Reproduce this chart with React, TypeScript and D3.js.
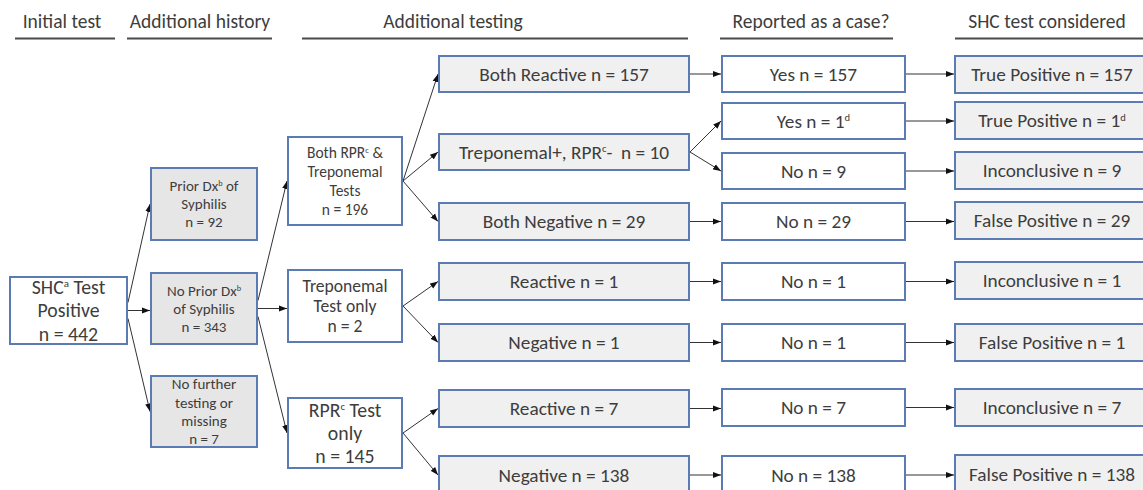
import React, { useEffect } from "react";
import * as d3 from "d3";

// ---------- data ----------
const stageTitles = [
  "Initial test",
  "Additional history",
  "Additional testing",
  "Reported as a case?",
  "SHC test considered",
];

const nodeIds = [
  "shc",
  "prior", "noprior", "nofurther",
  "both", "trepOnly", "rprOnly",
  "bothReact", "trepPlus", "bothNeg", "trepReact", "trepNeg", "rprReact", "rprNeg",
  "yes157", "yes1", "no9", "no29", "no1a", "no1b", "no7", "no138",
  "tp157", "tp1", "inc9", "fp29", "inc1", "fp1", "inc7", "fp138",
];

const nodeStage = [
  0,
  1, 1, 1,
  2, 2, 2,
  3, 3, 3, 3, 3, 3, 3,
  4, 4, 4, 4, 4, 4, 4, 4,
  5, 5, 5, 5, 5, 5, 5, 5,
];

// {x} marks a superscript footnote letter
const nodeLabels: string[][] = [
  ["SHC{a} Test", "Positive", "n = 442"],
  ["Prior Dx{b} of", "Syphilis", "n = 92"],
  ["No Prior Dx{b}", "of Syphilis", "n = 343"],
  ["No further", "testing or", "missing", "n = 7"],
  ["Both RPR{c} &", "Treponemal", "Tests", "n = 196"],
  ["Treponemal", "Test only", "n = 2"],
  ["RPR{c} Test", "only", "n = 145"],
  ["Both Reactive n = 157"],
  ["Treponemal+, RPR{c}-  n = 10"],
  ["Both Negative n = 29"],
  ["Reactive n = 1"],
  ["Negative n = 1"],
  ["Reactive n = 7"],
  ["Negative n = 138"],
  ["Yes n = 157"],
  ["Yes n = 1{d}"],
  ["No n = 9"],
  ["No n = 29"],
  ["No n = 1"],
  ["No n = 1"],
  ["No n = 7"],
  ["No n = 138"],
  ["True Positive n = 157"],
  ["True Positive n = 1{d}"],
  ["Inconclusive n = 9"],
  ["False Positive n = 29"],
  ["Inconclusive n = 1"],
  ["False Positive n = 1"],
  ["Inconclusive n = 7"],
  ["False Positive n = 138"],
];

const links: [string, string][] = [
  ["shc", "prior"], ["shc", "noprior"], ["shc", "nofurther"],
  ["noprior", "both"], ["noprior", "trepOnly"], ["noprior", "rprOnly"],
  ["both", "bothReact"], ["both", "trepPlus"], ["both", "bothNeg"],
  ["trepOnly", "trepReact"], ["trepOnly", "trepNeg"],
  ["rprOnly", "rprReact"], ["rprOnly", "rprNeg"],
  ["bothReact", "yes157"], ["trepPlus", "yes1"], ["trepPlus", "no9"],
  ["bothNeg", "no29"], ["trepReact", "no1a"], ["trepNeg", "no1b"],
  ["rprReact", "no7"], ["rprNeg", "no138"],
  ["yes157", "tp157"], ["yes1", "tp1"], ["no9", "inc9"], ["no29", "fp29"],
  ["no1a", "inc1"], ["no1b", "fp1"], ["no7", "inc7"], ["no138", "fp138"],
];

// ---------- layout ----------
const W = 1143;
const H = 490;
const stageX0 = [10, 151, 288, 439, 722, 955];
const stageX1 = [127, 257, 402, 689, 905, 1149];
const headerTextX = [62, 200, 453, 811, 1047];
const headerLine: [number, number][] = [[15, 115], [127, 272], [302, 688], [720, 893], [955, 1143]];

const nodeY: Record<string, [number, number]> = {
  shc: [277, 344],
  prior: [168, 240],
  noprior: [273, 344],
  nofurther: [376, 447],
  both: [137, 225],
  trepOnly: [270, 342],
  rprOnly: [398, 468],
  bothReact: [56, 92], trepPlus: [134, 170], bothNeg: [203, 240], trepReact: [263, 300],
  trepNeg: [324, 361], rprReact: [390, 427], rprNeg: [456, 494],
  yes157: [56, 92], yes1: [103, 139], no9: [153, 189], no29: [203, 240],
  no1a: [263, 300], no1b: [324, 361], no7: [389, 426], no138: [456, 494],
  tp157: [56, 93], tp1: [102, 139], inc9: [152, 189], fp29: [202, 239],
  inc1: [262, 299], fp1: [324, 361], inc7: [389, 426], fp138: [455, 494],
};

const nodeFont: Record<string, [number, number]> = {
  shc: [19.8, 23.5],
  prior: [15, 18], noprior: [15, 18], nofurther: [15, 18.3],
  both: [15.5, 19], trepOnly: [17.6, 20], rprOnly: [19.8, 23],
};
const defaultFont: [number, number] = [19.3, 20];
const headerFont = 19.5;

const stageFill = ["#ffffff", "#e6e6e6", "#ffffff", "#f0f0f0", "#ffffff", "#f0f0f0"];
const boxStroke = "#5a7cb3";
const textColor = "#3d3d3d";
const lineColor = "#333333";
const FONT = "Carlito, Calibri, Lato, 'Open Sans', sans-serif";

function Line({ text, x, y, fs }: { text: string; x: number; y: number; fs: number }) {
  const parts = text.split(/(\{[a-z]\})/).filter((p) => p.length > 0);
  const shift = fs * 0.33;
  let raised = false;
  return (
    <text
      x={x}
      y={y + fs * 0.35}
      textAnchor="middle"
      fontSize={fs}
      fill={textColor}
      fontFamily={FONT}
      style={{ whiteSpace: "pre" }}
    >
      {parts.map((p, i) => {
        const sup = /^\{[a-z]\}$/.test(p);
        let dy = 0;
        if (sup && !raised) { dy = -shift; raised = true; }
        else if (!sup && raised) { dy = shift; raised = false; }
        return (
          <tspan key={i} dy={dy || undefined} fontSize={sup ? fs * 0.55 : undefined}>
            {sup ? p.slice(1, -1) : p}
          </tspan>
        );
      })}
    </text>
  );
}

export default function App() {
  useEffect(() => {
    document.body.style.margin = "0";
  }, []);

  const idx = (id: string) => nodeIds.indexOf(id);
  const box = (id: string) => {
    const s = nodeStage[idx(id)];
    const [y0, y1] = nodeY[id];
    return { x0: stageX0[s], x1: stageX1[s], y0, y1, cy: (y0 + y1) / 2, stage: s };
  };
  const lineGen = d3.line<[number, number]>();

  return (
    <svg width={W} height={H} style={{ position: "absolute", left: 0, top: 0, display: "block" }}>
      <defs>
        <marker id="arr" markerUnits="userSpaceOnUse" markerWidth={9} markerHeight={7} refX={8} refY={3.5} orient="auto">
          <path d="M0,0.5 L8,3.5 L0,6.5 z" fill="#111" />
        </marker>
      </defs>
      <rect width={W} height={H} fill="#fff" />

      {stageTitles.map((t, i) => (
        <g key={t}>
          <text x={headerTextX[i]} y={27.5} textAnchor="middle" fontSize={headerFont} fill={textColor} fontFamily={FONT}>
            {t}
          </text>
          <line x1={headerLine[i][0]} x2={headerLine[i][1]} y1={38.5} y2={38.5} stroke="#4a4a4a" strokeWidth={2} />
        </g>
      ))}

      {links.map(([a, b], i) => {
        const s = box(a);
        const t = box(b);
        const straight = s.cy >= t.y0 && s.cy <= t.y1;
        const spread = s.stage <= 1 ? 8 : 0;
        const sy = straight ? s.cy : s.cy + spread * Math.sign(t.cy - s.cy);
        const ty = straight ? s.cy : t.cy;
        const sx = s.x1 + 1;
        const tx = t.x0 - 1;
        return (
          <path key={i} d={lineGen([[sx, sy], [tx, ty]]) || ""} stroke={lineColor} strokeWidth={1} fill="none" markerEnd="url(#arr)" />
        );
      })}

      {nodeIds.map((id, i) => {
        const b = box(id);
        const [fs, lh] = nodeFont[id] || defaultFont;
        const lines = nodeLabels[i];
        const cx = (b.x0 + b.x1) / 2;
        const startY = b.cy - ((lines.length - 1) * lh) / 2;
        return (
          <g key={id}>
            <rect x={b.x0} y={b.y0} width={b.x1 - b.x0} height={b.y1 - b.y0} fill={stageFill[b.stage]} stroke={boxStroke} strokeWidth={2} />
            {lines.map((l, j) => (
              <Line key={j} text={l} x={cx} y={startY + j * lh} fs={fs} />
            ))}
          </g>
        );
      })}
    </svg>
  );
}
